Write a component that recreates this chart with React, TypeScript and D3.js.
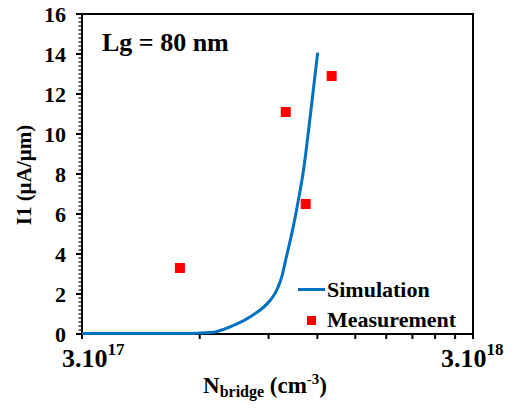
import React from "react";
import * as d3 from "d3";

const simN = [3.0e17, 4.5e17, 5.7e17, 6.4e17, 7.2e17, 8.1e17, 9.1e17, 9.35e17, 9.53e17, 9.73e17, 1.0e18, 1.021e18, 1.041e18, 1.073e18, 1.104e18, 1.149e18, 1.202e18];
const simI = [0.03, 0.03, 0.03, 0.07, 0.37, 0.87, 1.7, 2.03, 2.37, 2.87, 3.87, 4.62, 5.37, 6.7, 8.1, 10.8, 14.07];

const measN = [5.34e17, 9.96e17, 1.12e18, 1.305e18];
const measI = [3.3, 11.1, 6.5, 12.9];

const yTicks = [0, 2, 4, 6, 8, 10, 12, 14, 16];
const xMinorFactors = [2, 3, 4, 5, 6, 7, 8, 9];
const xBase = 3e17;

const FONT = "Liberation Serif, Times New Roman, serif";

export default function App() {
  const W = 515, H = 416;
  const left = 82, right = 473, top = 14, bottom = 334;
  const x = d3.scaleLog().domain([3e17, 3e18]).range([left, right]);
  const y = d3.scaleLinear().domain([0, 16]).range([bottom, top]);

  const pts: [number, number][] = simN.map((n, i) => [x(n), y(simI[i])]);
  const line = d3.line().curve(d3.curveMonotoneX)(pts) || "";

  const minorY: number[] = [];
  for (let v = 0; v <= 16.0001; v += 0.2) minorY.push(+v.toFixed(2));

  return (
    <svg width={W} height={H} style={{ position: "absolute", left: 0, top: 0, background: "#fff", fontFamily: FONT, fontWeight: "bold" }}>
      {minorY.map((v, i) => (
        <line key={"my" + i} x1={left - 3.5} x2={left} y1={y(v)} y2={y(v)} stroke="#000" strokeWidth={1.2} />
      ))}
      {yTicks.map((v) => (
        <g key={"yt" + v}>
          <line x1={left - 6} x2={left} y1={y(v)} y2={y(v)} stroke="#000" strokeWidth={2} />
          <text x={66} y={y(v)} dy="0.35em" textAnchor="end" fontSize={22}>{v}</text>
        </g>
      ))}
      {[1, ...xMinorFactors, 10].map((k) => (
        <line key={"xt" + k} x1={x(xBase * k)} x2={x(xBase * k)} y1={bottom} y2={bottom + 5} stroke="#000" strokeWidth={2} />
      ))}
      <rect x={left} y={top} width={right - left} height={bottom - top} fill="none" stroke="#000" strokeWidth={2} />

      <path d={line} fill="none" stroke="#0070C0" strokeWidth={3} />
      {measN.map((n, i) => (
        <rect key={"m" + i} x={x(n) - 5} y={y(measI[i]) - 5} width={10} height={10} fill="#FF0000" />
      ))}

      <text x={62} y={367} fontSize={26}>3.10<tspan dy={-12} fontSize={17}>17</tspan></text>
      <text x={441} y={367} fontSize={26}>3.10<tspan dy={-12} fontSize={17}>18</tspan></text>

      <text x={102} y={51} fontSize={26}>Lg = 80 nm</text>

      <line x1={298} x2={325} y1={289.5} y2={289.5} stroke="#0070C0" strokeWidth={3} />
      <text x={327} y={297} fontSize={22}>Simulation</text>
      <rect x={307} y={316} width={9} height={9} fill="#FF0000" />
      <text x={327} y={327} fontSize={22}>Measurement</text>

      <text x={203} y={393} fontSize={23}>N<tspan dy={4} fontSize={16}>bridge</tspan><tspan dy={-4} fontSize={23}> (cm</tspan><tspan dy={-9} fontSize={15}>-3</tspan><tspan dy={9} fontSize={23}>)</tspan></text>
      <text transform={`translate(31,175) rotate(-90)`} textAnchor="middle" fontSize={21}>I1 (µA/µm)</text>
    </svg>
  );
}
